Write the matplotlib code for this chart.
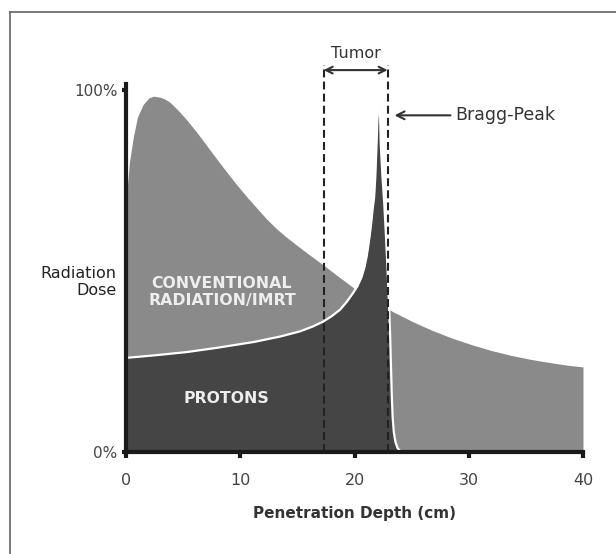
import matplotlib
matplotlib.use("Agg")
import matplotlib.pyplot as plt
from matplotlib.lines import Line2D

# ---- data ----
conv_x = [0, 0.0, 0.3, 0.64, 1.0, 1.5, 2.0, 2.4, 3.0, 3.4, 3.85, 4.5, 5.3, 6.2, 7.1, 8.0,
          8.8, 9.7, 10.6, 11.5, 12.3, 13.2, 14.1, 15.0, 16.0, 17.3, 18.5, 19.9, 21.5,
          23.4, 25.1, 26.8, 28.5, 30.2, 31.9, 33.7, 35.4, 37.1, 38.6, 40.0]
conv_y = [0, 69, 80, 87, 92.5, 96, 97.8, 98.3, 98.0, 97.5, 96.6, 94.6, 91.8, 88.3, 84.5, 80.7,
          77.4, 73.8, 70.4, 67.2, 64.4, 61.6, 59.2, 57.0, 54.6, 51.6, 48.7, 45.4, 41.9,
          38.7, 36.0, 33.6, 31.5, 29.7, 28.1, 26.7, 25.6, 24.7, 24.0, 23.5]

prot_x = [0, 2.5, 5.3, 8.0, 11.2, 13.5, 15.2, 16.3, 17.24, 18.0, 18.73, 19.3, 19.87,
          20.25, 20.6, 20.85, 21.05, 21.2, 21.35, 21.48, 21.58, 21.72, 21.82, 21.93,
          22.0, 22.08, 22.17, 22.24, 22.3, 22.45, 22.6, 22.75, 22.9, 23.02, 23.12,
          23.2, 23.27, 23.34, 23.44, 23.58, 23.78, 24.0, 24.15]
prot_y = [26, 26.7, 27.6, 28.8, 30.4, 31.9, 33.3, 34.6, 36.0, 37.5, 39.3, 41.4, 43.9,
          45.8, 48.2, 50.8, 53.8, 56.8, 60.3, 63.8, 66.9, 70.5, 76, 85,
          91.5, 95.5, 96.8, 93, 85, 76, 69, 60, 50, 41, 32,
          23, 15, 9.5, 5.5, 2.8, 1.0, 0.3, 0]

tumor_x = [17.3, 22.9]
bragg_peak = (23.5, 93)
xticks = [0, 10, 20, 30, 40]
xtick_labels = ["0", "10", "20", "30", "40"]
yticks = [0, 100]
ytick_labels = ["0%", "100%"]

GRAY = "#8a8a8a"
DARK = "#454545"
INK = "#222222"

plt.rcParams["font.family"] = ["DejaVu Sans"]

W, H = 616, 554
fig = plt.figure(figsize=(W / 100, H / 100), dpi=100)
fig.patch.set_facecolor("white")

# outer frame (top and left lines only)
fig.add_artist(Line2D([10 / W, 10 / W], [0, 1 - 12 / H], color="#6e6e6e", lw=1.3))
fig.add_artist(Line2D([10 / W, 1], [1 - 12 / H, 1 - 12 / H], color="#6e6e6e", lw=1.3))

ax = fig.add_axes([126 / W, 1 - 452 / H, (583 - 126) / W, (452 - 84) / H])
ax.set_xlim(0, 40)
ax.set_ylim(0, 368 / 3.62)

ax.fill_between(conv_x, 0, conv_y, color=GRAY, lw=0, zorder=1)
ax.fill_between(prot_x, 0, prot_y, color=DARK, lw=0, zorder=2)
ax.plot(prot_x, prot_y, color="white", lw=1.6, zorder=3, solid_capstyle="butt",
        solid_joinstyle="round")

# tumor dashed bounds
for tx in tumor_x:
    ax.plot([tx, tx], [0, 107], color=INK, lw=1.5, ls=(0, (3.8, 2.0)),
            zorder=4, clip_on=False)
ax.annotate("", xy=(tumor_x[0], 105.5), xytext=(tumor_x[1], 105.5),
            arrowprops=dict(arrowstyle="<->", lw=1.5, color="#333333",
                            shrinkA=0, shrinkB=0, mutation_scale=12),
            annotation_clip=False)
ax.text(sum(tumor_x) / 2, 110, "Tumor", ha="center", va="center",
        fontsize=11.5, color="#333333", clip_on=False)

# Bragg peak arrow
ax.annotate("", xy=bragg_peak, xytext=(28.4, bragg_peak[1]),
            arrowprops=dict(arrowstyle="->", lw=1.5, color="#333333",
                            shrinkA=0, shrinkB=0, mutation_scale=14),
            annotation_clip=False)
ax.text(28.8, bragg_peak[1], "Bragg-Peak", ha="left", va="center",
        fontsize=12.5, color="#333333")

# region labels
ax.text(8.4, 44.3, "CONVENTIONAL\nRADIATION/IMRT", ha="center", va="center",
        fontsize=11.3, fontweight="bold", color="#eeeeee", linespacing=1.15, zorder=5)
ax.text(8.8, 14.8, "PROTONS", ha="center", va="center",
        fontsize=11.3, fontweight="bold", color="#eeeeee", zorder=5)

# axes styling
for s in ["top", "right"]:
    ax.spines[s].set_visible(False)
for s in ["left", "bottom"]:
    ax.spines[s].set_linewidth(3)
    ax.spines[s].set_color("#1a1a1a")
    ax.spines[s].set_zorder(6)
ax.spines["left"].set_bounds(0, 368 / 3.62)

ax.set_xticks(xticks)
ax.set_xticklabels(xtick_labels)
ax.set_yticks(yticks)
ax.set_yticklabels(ytick_labels)
ax.tick_params(axis="x", length=4, width=3, color="#1a1a1a", labelsize=11.5,
               labelcolor="#444444", pad=11)
ax.tick_params(axis="y", length=3, width=3, color="#1a1a1a", labelsize=11,
               labelcolor="#444444", pad=3)

ax.set_xlabel("Penetration Depth (cm)", fontsize=11, fontweight="bold",
              color="#333333", labelpad=13)
ax.text(-0.02, 47, "Radiation\nDose", transform=ax.get_yaxis_transform(),
        ha="right", va="center", fontsize=11.5, color=INK, linespacing=1.2)

fig.savefig("out.png", dpi=100, facecolor="white")
